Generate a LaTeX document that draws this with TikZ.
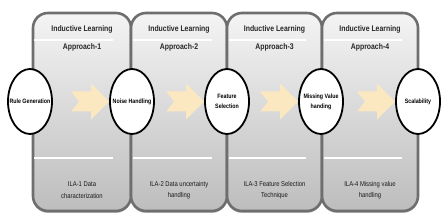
\documentclass[tikz,border=0pt]{standalone}
\usepackage{fontspec}
\setmainfont{Liberation Sans}[FakeStretch=0.84]
\usetikzlibrary{shapes.geometric,calc}
\definecolor{pborder}{HTML}{6E6E6E}
\definecolor{ptop}{HTML}{F4F4F4}
\definecolor{pbot}{HTML}{BDBDBD}
\definecolor{arr}{HTML}{FCE8C0}
\tikzset{
  panel/.style={rectangle, rounded corners=15pt, draw=pborder, line width=2.6pt,
    top color=ptop, bottom color=pbot, minimum height=198pt, inner sep=0pt},
  pshadow/.style={rectangle, rounded corners=15pt, fill=black, opacity=0.25,
    minimum height=198pt, inner sep=0pt},
  ttl/.style={font=\bfseries\fontsize{8.2}{9}\selectfont, text=black!85, inner sep=0pt},
  btm/.style={font=\fontsize{7}{11.5}\selectfont, text=black!90, align=center, inner sep=0pt},
  oval/.style={ellipse, draw=black, line width=1.8pt, fill=white,
    minimum width=44pt, minimum height=65pt, inner sep=0pt},
  olbl/.style={font=\bfseries\fontsize{6.3}{10}\selectfont, align=center, inner sep=0pt},
  wline/.style={draw=white, line width=1.4pt},
  chev/.style={fill=arr, draw=none}
}
\newcommand{\chevto}[1]{%
  \fill[chev] (#1.west) -- ++(-18,-18) -- ++(0,8) -- ++(-20,0) -- ++(8,10)
    -- ++(-8,10) -- ++(20,0) -- ++(0,8) -- cycle;}
\begin{document}
\begin{tikzpicture}[x=1pt,y=-1pt]
\useasboundingbox (0,0) rectangle (447,221);
% shadows
\node[pshadow, minimum width=98pt] (s1) at (82,114) {};
\node[pshadow, minimum width=96pt] (s2) at (179,114) {};
\node[pshadow, minimum width=95pt] (s3) at (274.5,114) {};
\node[pshadow, minimum width=96pt] (s4) at (370,114) {};
% panels
\node[panel, minimum width=98pt] (p1) at (82,112) {};
\node[panel, minimum width=96pt] (p2) at (179,112) {};
\node[panel, minimum width=95pt] (p3) at (274.5,112) {};
\node[panel, minimum width=96pt] (p4) at (370,112) {};
% white lines
\foreach \a/\b in {34/113, 133/212, 229/306, 324/402}{
  \draw[wline] (\a,40) -- (\b,40);
  \draw[wline] (\a,158) -- (\b,158);
}
% titles
\node[ttl] (t1) at (82,29.5) {Inductive Learning};
\node[ttl] (t2) at (179,29.5) {Inductive Learning};
\node[ttl] (t3) at (274.5,29.5) {Inductive Learning};
\node[ttl] (t4) at (370,29.5) {Inductive Learning};
\node[ttl] (a1) at (82,47.5) {Approach-1};
\node[ttl] (a2) at (179,47.5) {Approach-2};
\node[ttl] (a3) at (274.5,47.5) {Approach-3};
\node[ttl] (a4) at (370,47.5) {Approach-4};
% bottom texts
\node[btm] (b1) at (82,190) {ILA-1 Data\\characterization};
\node[btm] (b2) at (179,190) {ILA-2 Data uncertainty\\handling};
\node[btm] (b3) at (274.5,190) {ILA-3 Feature Selection\\Technique};
\node[btm] (b4) at (370,190) {ILA-4 Missing value\\handling};
% ovals
\node[oval] (e1) at (30,101.5) {};
\node[oval] (e2) at (132,101.5) {};
\node[oval] (e3) at (227,101.5) {};
\node[oval] (e4) at (321,101.5) {};
\node[oval] (e5) at (418,101.5) {};
% arrows
\chevto{e2}
\chevto{e3}
\chevto{e4}
\chevto{e5}
% labels
\node[olbl] (l1) at (e1) {Rule Generation};
\node[olbl] (l2) at (e2) {Noise Handling};
\node[olbl] (l3) at (e3) {Feature\\Selection};
\node[olbl] (l4) at (e4) {Missing Value\\handing};
\node[olbl] (l5) at (e5) {Scalability};
\end{tikzpicture}
\end{document}
